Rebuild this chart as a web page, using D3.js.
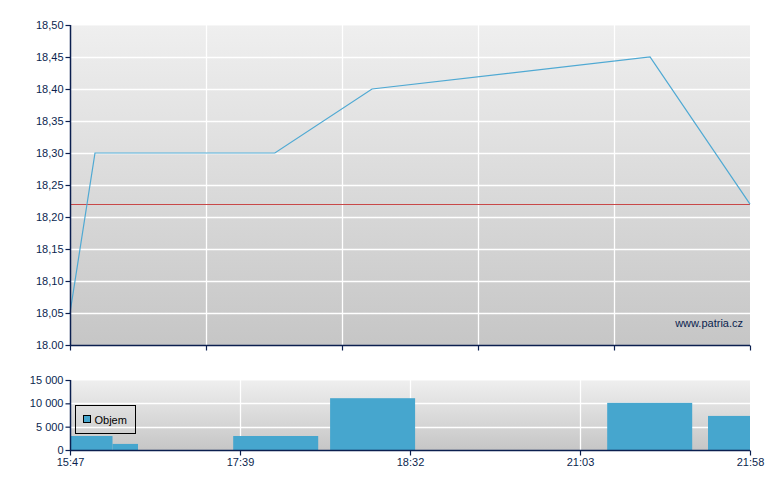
<!DOCTYPE html>
<html><head><meta charset="utf-8">
<script src="https://cdn.jsdelivr.net/npm/d3@7"></script>
<style>body{margin:0;background:#fff}svg{display:block;font-family:"Liberation Sans",Arial,sans-serif}</style>
</head><body>
<svg id="c" width="780" height="490"></svg>
<script>
// ---- data (x in trading-session slot units, 0..8) ----
const priceX = [0, 0.294, 2.41, 3.553, 6.824, 8];
const priceY = [18.05, 18.30, 18.30, 18.40, 18.45, 18.22];
const refPrice = 18.22;
const volStart = [0, 0.5, 1.92, 3.06, 6.32, 7.506];
const volEnd   = [0.5, 0.8, 2.92, 4.06, 7.32, 8];
const volValue = [3000, 1300, 3000, 11100, 10100, 7300];
const priceTicks = [18.00, 18.05, 18.10, 18.15, 18.20, 18.25, 18.30, 18.35, 18.40, 18.45, 18.50];
const priceTickLabels = ["18.00","18,05","18,10","18,15","18,20","18,25","18,30","18,35","18,40","18,45","18,50"];
const volTicks = [0, 5000, 10000, 15000];
const volTickLabels = ["0","5 000","10 000","15 000"];
const topXTicks = [0, 1.6, 3.2, 4.8, 6.4, 8];
const bottomXTicks = [0, 2, 4, 6, 8];
const bottomXLabels = ["15:47","17:39","18:32","21:03","21:58"];
const legendLabel = "Objem";
const watermark = "www.patria.cz";

const svg = d3.select("#c");
const navy = "#0b1f4f";
const L = 70, R = 750;
const x = d3.scaleLinear().domain([0, 8]).range([L, R]);
const y = d3.scaleLinear().domain([18.0, 18.5]).range([345, 25]);
const yv = d3.scaleLinear().domain([0, 15000]).range([450, 380]);

const defs = svg.append("defs");
const g1 = defs.append("linearGradient").attr("id","bg").attr("x1",0).attr("y1",0).attr("x2",0).attr("y2",1);
g1.append("stop").attr("offset","0%").attr("stop-color","#efefef");
g1.append("stop").attr("offset","100%").attr("stop-color","#c6c6c6");

// ---- main chart ----
svg.append("rect").attr("x",L).attr("y",y(18.5)).attr("width",R-L).attr("height",y(18.0)-y(18.5)).attr("fill","url(#bg)");
svg.append("line").attr("x1",L).attr("x2",R).attr("y1",y(18.5)+0.5).attr("y2",y(18.5)+0.5).attr("stroke","#f6f6f6");
const gm = svg.append("g");
gm.selectAll(".hg").data(priceTicks.slice(1,-1)).enter().append("line")
  .attr("x1",L).attr("x2",R).attr("y1",d=>Math.round(y(d))+0.5).attr("y2",d=>Math.round(y(d))+0.5)
  .attr("stroke","#fff").attr("stroke-width",1.3);
gm.selectAll(".vg").data(topXTicks.slice(1,-1)).enter().append("line")
  .attr("x1",d=>Math.round(x(d))+0.5).attr("x2",d=>Math.round(x(d))+0.5).attr("y1",y(18.5)).attr("y2",y(18.0))
  .attr("stroke","#fff").attr("stroke-width",1.3);

svg.append("line").attr("x1",L).attr("x2",R).attr("y1",Math.round(y(refPrice))+0.5).attr("y2",Math.round(y(refPrice))+0.5)
  .attr("stroke","#c84848").attr("stroke-width",1);

const line = d3.line().x((d,i)=>x(priceX[i])).y(d=>y(d));
svg.append("path").datum(priceY).attr("d",line).attr("fill","none").attr("stroke","#4fa9d3").attr("stroke-width",1.2);

svg.append("text").attr("x",743).attr("y",327).attr("text-anchor","end").attr("fill",navy)
  .attr("font-size",11).text(watermark);

// axes
const yAxis = d3.axisLeft(y).tickValues(priceTicks).tickFormat((d,i)=>priceTickLabels[i]).tickSize(5).tickPadding(2);
const ya = svg.append("g").attr("transform",`translate(${L+0.5},0)`).call(yAxis);
const xAxisTop = d3.axisBottom(x).tickValues(topXTicks).tickFormat("").tickSize(5);
const xa = svg.append("g").attr("transform",`translate(0,${y(18.0)+0.5})`).call(xAxisTop);

// ---- volume chart ----
svg.append("rect").attr("x",L).attr("y",yv(15000)).attr("width",R-L).attr("height",yv(0)-yv(15000)).attr("fill","url(#bg)");
svg.append("line").attr("x1",L).attr("x2",R).attr("y1",yv(15000)+0.5).attr("y2",yv(15000)+0.5).attr("stroke","#f6f6f6");
svg.selectAll(".vhg").data(volTicks.slice(1,-1)).enter().append("line")
  .attr("x1",L).attr("x2",R).attr("y1",d=>Math.round(yv(d))+0.5).attr("y2",d=>Math.round(yv(d))+0.5)
  .attr("stroke","#fff").attr("stroke-width",1.3);
svg.selectAll(".vvg").data(bottomXTicks.slice(1,-1)).enter().append("line")
  .attr("x1",d=>Math.round(x(d))+0.5).attr("x2",d=>Math.round(x(d))+0.5).attr("y1",yv(15000)).attr("y2",yv(0))
  .attr("stroke","#fff").attr("stroke-width",1.3);

svg.selectAll(".bar").data(volValue).enter().append("rect")
  .attr("x",(d,i)=>x(volStart[i])).attr("width",(d,i)=>x(volEnd[i])-x(volStart[i]))
  .attr("y",d=>yv(d)).attr("height",d=>yv(0)-yv(d)).attr("fill","#46a6ce");

const yvAxis = d3.axisLeft(yv).tickValues(volTicks).tickFormat((d,i)=>volTickLabels[i]).tickSize(5).tickPadding(2);
const yva = svg.append("g").attr("transform",`translate(${L+0.5},0)`).call(yvAxis);
const xAxisBot = d3.axisBottom(x).tickValues(bottomXTicks).tickFormat((d,i)=>bottomXLabels[i]).tickSize(5).tickPadding(3);
const xba = svg.append("g").attr("transform",`translate(0,${yv(0)+0.5})`).call(xAxisBot);

[ya, xa, yva, xba].forEach(a=>{
  a.selectAll("path.domain").attr("stroke",navy).attr("stroke-width",1.5);
  a.selectAll(".tick line").attr("stroke",navy).attr("stroke-width",1.2);
  a.selectAll(".tick text").attr("fill",navy).attr("font-size",11).attr("font-family","'Liberation Sans',Arial,sans-serif");
});
xa.select("path.domain").attr("d",`M${L},0H${R}`);
xba.select("path.domain").attr("d",`M${L},0H${R}`);
ya.select("path.domain").attr("d",`M0,${y(18.5)}V${y(18.0)}`);
yva.select("path.domain").attr("d",`M0,${yv(15000)}V${yv(0)}`);

// legend
const lg = svg.append("g").attr("transform","translate(75.5,405.5)");
lg.append("rect").attr("width",60).attr("height",28).attr("fill","none").attr("stroke","#000").attr("stroke-width",1);
lg.append("rect").attr("x",8).attr("y",10).attr("width",7).attr("height",7).attr("fill","#46a6ce").attr("stroke","#000").attr("stroke-width",1);
lg.append("text").attr("x",19).attr("y",18.5).attr("font-size",11).attr("fill","#000").text(legendLabel);
</script>
</body></html>
